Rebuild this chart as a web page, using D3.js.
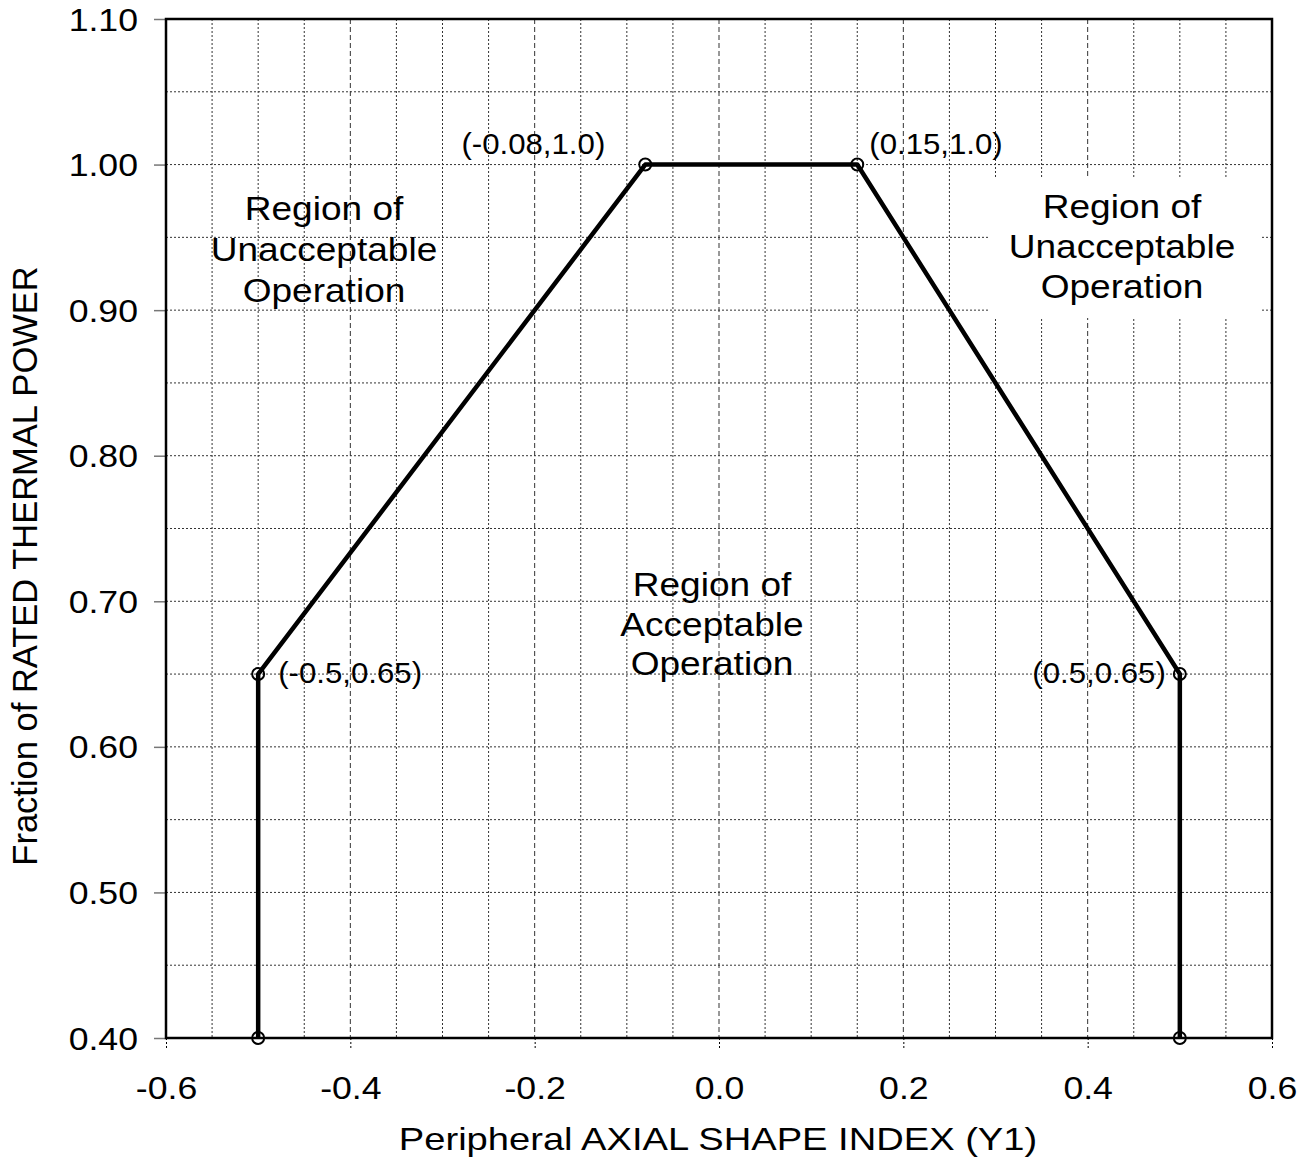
<!DOCTYPE html>
<html>
<head>
<meta charset="utf-8">
<script src="https://cdn.jsdelivr.net/npm/d3@7"></script>
<style>
html,body{margin:0;padding:0;background:#fff;}
svg{display:block;font-family:"Liberation Sans",Arial,sans-serif;}
</style>
</head>
<body>
<svg id="chart" width="1310" height="1158"></svg>
<script>
// ---- data ----
const limitX = [-0.5, -0.5, -0.08, 0.15, 0.5, 0.5];
const limitY = [0.40, 0.65, 1.00, 1.00, 0.65, 0.40];
const pointLabels = ["(-0.5,0.65)", "(-0.08,1.0)", "(0.15,1.0)", "(0.5,0.65)"];
const labelPointX = [-0.5, -0.08, 0.15, 0.5];
const labelPointY = [0.65, 1.00, 1.00, 0.65];
const xTicks = [-0.6, -0.4, -0.2, 0.0, 0.2, 0.4, 0.6];
const yTicks = [0.40, 0.50, 0.60, 0.70, 0.80, 0.90, 1.00, 1.10];
const xGrid = [-0.55,-0.5,-0.45,-0.4,-0.35,-0.3,-0.25,-0.2,-0.15,-0.1,-0.05,0,0.05,0.1,0.15,0.2,0.25,0.3,0.35,0.4,0.45,0.5,0.55];
const yGrid = [0.45,0.5,0.55,0.6,0.65,0.7,0.75,0.8,0.85,0.9,0.95,1.0,1.05];
const regionLeft = ["Region of", "Unacceptable", "Operation"];
const regionRight = ["Region of", "Unacceptable", "Operation"];
const regionMid = ["Region of", "Acceptable", "Operation"];
const xTitle = "Peripheral AXIAL SHAPE INDEX (Y1)";
const yTitle = "Fraction of RATED THERMAL POWER";

// ---- layout ----
const L = 166, R = 1272, T = 19, B = 1038;
const svg = d3.select("#chart");
const x = d3.scaleLinear().domain([-0.6, 0.6]).range([L, R]);
const y = d3.scaleLinear().domain([0.4, 1.1]).range([B, T]);
const fmtX = d => d3.format(".1f")(d).replace("\u2212", "-");
const fmtY = d => d3.format(".2f")(d).replace("\u2212", "-");

function stretchedText(g, tx, ty, txt, size, sx, anchor) {
  return g.append("text")
    .attr("transform", `translate(${tx},${ty}) scale(${sx},1)`)
    .attr("text-anchor", anchor || "middle")
    .attr("font-size", size)
    .attr("fill", "#000")
    .text(txt);
}

// grid
const isMajorX = d => Math.abs(d * 5 - Math.round(d * 5)) < 1e-6;
const grid = svg.append("g");
grid.selectAll("line.vx").data(xGrid).join("line")
  .attr("x1", d => x(d)).attr("x2", d => x(d))
  .attr("y1", T).attr("y2", B)
  .attr("stroke", "#333").attr("stroke-width", 1)
  .attr("stroke-dasharray", d => isMajorX(d) ? "5,3" : "2,2");
grid.selectAll("line.hy").data(yGrid).join("line")
  .attr("x1", L).attr("x2", R)
  .attr("y1", d => y(d)).attr("y2", d => y(d))
  .attr("stroke", "#333").attr("stroke-width", 1)
  .attr("stroke-dasharray", "2,2");

// white box behind right label
svg.append("rect").attr("x", 989).attr("y", 178).attr("width", 272).attr("height", 140).attr("fill", "#fff");

// axes
const yAxis = d3.axisLeft(y).tickValues(yTicks).tickFormat(fmtY).tickSize(12).tickPadding(0);
const gy = svg.append("g").attr("transform", `translate(${L},0)`).call(yAxis);
gy.select(".domain").remove();
gy.selectAll(".tick line").attr("stroke", "#777").attr("stroke-width", 1.5);
gy.selectAll(".tick text").remove();
gy.selectAll(".tick").each(function(d) {
  stretchedText(d3.select(this), -28, 11, fmtY(d), 31, 1.15, "end");
});

const xAxis = d3.axisBottom(x).tickValues(xTicks).tickFormat(fmtX).tickSize(11).tickPadding(0);
const gx = svg.append("g").attr("transform", `translate(0,${B})`).call(xAxis);
gx.select(".domain").remove();
gx.selectAll(".tick line").attr("stroke", "#000").attr("stroke-width", 1).attr("stroke-dasharray", "2,2");
gx.selectAll(".tick text").remove();
gx.selectAll(".tick").each(function(d) {
  stretchedText(d3.select(this), 0, 61, fmtX(d), 31, 1.15, "middle");
});

// frame
svg.append("rect").attr("x", L).attr("y", T).attr("width", R - L).attr("height", B - T)
  .attr("fill", "none").attr("stroke", "#000").attr("stroke-width", 2.5);

// limit line
const pts = limitX.map((v, i) => [v, limitY[i]]);
svg.append("path").datum(pts)
  .attr("d", d3.line().x(d => x(d[0])).y(d => y(d[1])))
  .attr("fill", "none").attr("stroke", "#000").attr("stroke-width", 4.5).attr("stroke-linejoin", "round");
svg.selectAll("circle.pt").data(pts).join("circle")
  .attr("cx", d => x(d[0])).attr("cy", d => y(d[1])).attr("r", 6)
  .attr("fill", "none").attr("stroke", "#000").attr("stroke-width", 2);

// point labels
const lblOffsets = [[20, 9, "start"], [-40, -11, "end"], [12, -11, "start"], [-14, 9, "end"]];
pointLabels.forEach((t, i) => {
  const o = lblOffsets[i];
  stretchedText(svg, x(labelPointX[i]) + o[0], y(labelPointY[i]) + o[1], t, 30, 1.04, o[2]);
});

// region labels
function region(lines, cx, y0, gap) {
  lines.forEach((t, i) => stretchedText(svg, cx, y0 + i * gap, t, 34, 1.09, "middle"));
}
region(regionLeft, 324, 220, 41);
region(regionRight, 1122, 218, 40);
region(regionMid, 712, 596, 39.5);

// axis titles
stretchedText(svg, 718, 1150, xTitle, 30.5, 1.25, "middle");
svg.append("text")
  .attr("transform", `translate(37,566) rotate(-90)`)
  .attr("text-anchor", "middle").attr("font-size", 34.5).attr("fill", "#000")
  .text(yTitle);
</script>
</body>
</html>
